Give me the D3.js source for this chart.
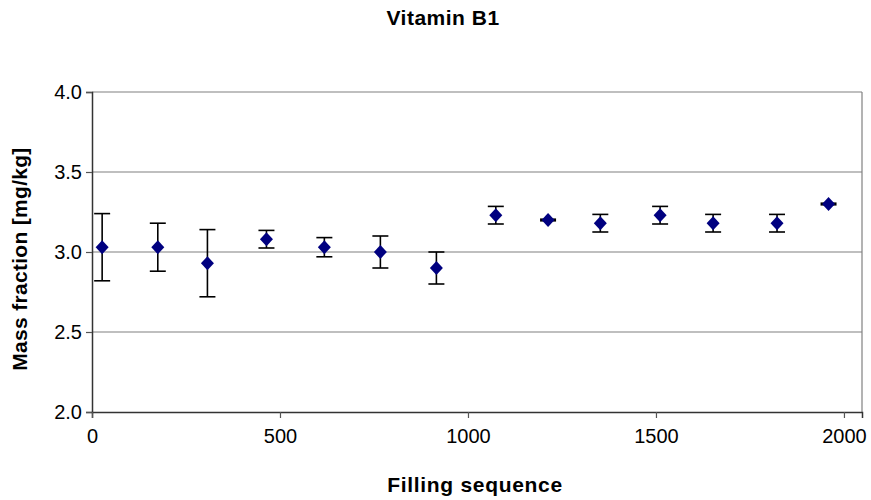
<!DOCTYPE html>
<html>
<head>
<meta charset="utf-8">
<script src="https://cdn.jsdelivr.net/npm/d3@7"></script>
<style>
  body { margin: 0; background: #fff; }
  text { font-family: "Liberation Sans", Arial, sans-serif; }
</style>
</head>
<body>
<div class="chart"></div>
<script>
var width = 871,
    height = 500;

// filling sequence (x), mass fraction (y), error (+/-)
var sequence = [27, 175, 307, 464, 618, 767, 916, 1074, 1213, 1352, 1511, 1652, 1822, 1959];
var massFraction = [3.03, 3.03, 2.93, 3.08, 3.03, 3.00, 2.90, 3.23, 3.20, 3.18, 3.23, 3.18, 3.18, 3.30];
var errors = [0.21, 0.15, 0.21, 0.055, 0.06, 0.10, 0.10, 0.055, 0.005, 0.055, 0.055, 0.055, 0.055, 0.005];
var xTicks = [0, 500, 1000, 1500, 2000];
var yTicks = [2.0, 2.5, 3.0, 3.5, 4.0];

var points = sequence.map(function(s, i) {
  return { x: s, y: massFraction[i], e: errors[i] };
});

var plot = { left: 92, top: 92, right: 862, bottom: 412 };

var x = d3.scaleLinear().domain([0, 2048]).range([plot.left, plot.right]);
var y = d3.scaleLinear().domain([2, 4]).range([plot.bottom, plot.top]);

var svg = d3.select(".chart").append("svg")
    .attr("width", width)
    .attr("height", height);

// gridlines
svg.append("g")
  .selectAll("line")
  .data(yTicks.filter(function(d) { return d > 2; }))
  .enter().append("line")
    .attr("x1", plot.left)
    .attr("x2", plot.right)
    .attr("y1", function(d) { return y(d); })
    .attr("y2", function(d) { return y(d); })
    .attr("stroke", "#808080")
    .attr("stroke-width", 1.2);

// right border
svg.append("line")
  .attr("x1", plot.right).attr("x2", plot.right)
  .attr("y1", plot.top).attr("y2", plot.bottom)
  .attr("stroke", "#808080")
  .attr("stroke-width", 1.2);

// axes
var yAxis = svg.append("g")
  .attr("transform", "translate(" + plot.left + ",0)")
  .call(d3.axisLeft(y).tickValues(yTicks).tickSize(6).tickPadding(4).tickFormat(d3.format(".1f")));

var xAxis = svg.append("g")
  .attr("transform", "translate(0," + plot.bottom + ")")
  .call(d3.axisBottom(x).tickValues(xTicks).tickSize(6).tickPadding(11).tickFormat(d3.format("d")));

[xAxis, yAxis].forEach(function(a) {
  a.select(".domain").attr("stroke", "#333").attr("stroke-width", 1.5);
  a.selectAll(".tick line").attr("stroke", "#555").attr("stroke-width", 1.2);
  a.selectAll(".tick text")
    .attr("font-family", "Liberation Sans, Arial, sans-serif")
    .attr("font-size", 20)
    .attr("fill", "#000");
});

// error bars
var eb = svg.append("g").attr("stroke", "#000").attr("stroke-width", 1.6);
eb.selectAll(".stem").data(points).enter().append("line")
  .attr("x1", function(d) { return x(d.x); })
  .attr("x2", function(d) { return x(d.x); })
  .attr("y1", function(d) { return y(d.y + d.e); })
  .attr("y2", function(d) { return y(d.y - d.e); });
eb.selectAll(".capTop").data(points).enter().append("line")
  .attr("x1", function(d) { return x(d.x) - 8; })
  .attr("x2", function(d) { return x(d.x) + 8; })
  .attr("y1", function(d) { return y(d.y + d.e); })
  .attr("y2", function(d) { return y(d.y + d.e); });
eb.selectAll(".capBot").data(points).enter().append("line")
  .attr("x1", function(d) { return x(d.x) - 8; })
  .attr("x2", function(d) { return x(d.x) + 8; })
  .attr("y1", function(d) { return y(d.y - d.e); })
  .attr("y2", function(d) { return y(d.y - d.e); });

// markers
svg.append("g")
  .selectAll("path")
  .data(points)
  .enter().append("path")
    .attr("d", "M0,-7L6.5,0L0,7L-6.5,0Z")
    .attr("transform", function(d) { return "translate(" + x(d.x) + "," + y(d.y) + ")"; })
    .attr("fill", "#000080");

// title and labels
svg.append("text")
  .attr("x", 443).attr("y", 25)
  .attr("text-anchor", "middle")
  .attr("font-size", 21).attr("font-weight", "bold")
  .attr("letter-spacing", 0.5)
  .text("Vitamin B1");

svg.append("text")
  .attr("x", 475).attr("y", 492)
  .attr("text-anchor", "middle")
  .attr("font-size", 21).attr("font-weight", "bold")
  .attr("letter-spacing", 0.7)
  .text("Filling sequence");

svg.append("text")
  .attr("transform", "translate(27,259) rotate(-90)")
  .attr("text-anchor", "middle")
  .attr("font-size", 21).attr("font-weight", "bold")
  .attr("letter-spacing", 0.3)
  .text("Mass fraction [mg/kg]");
</script>
</body>
</html>
